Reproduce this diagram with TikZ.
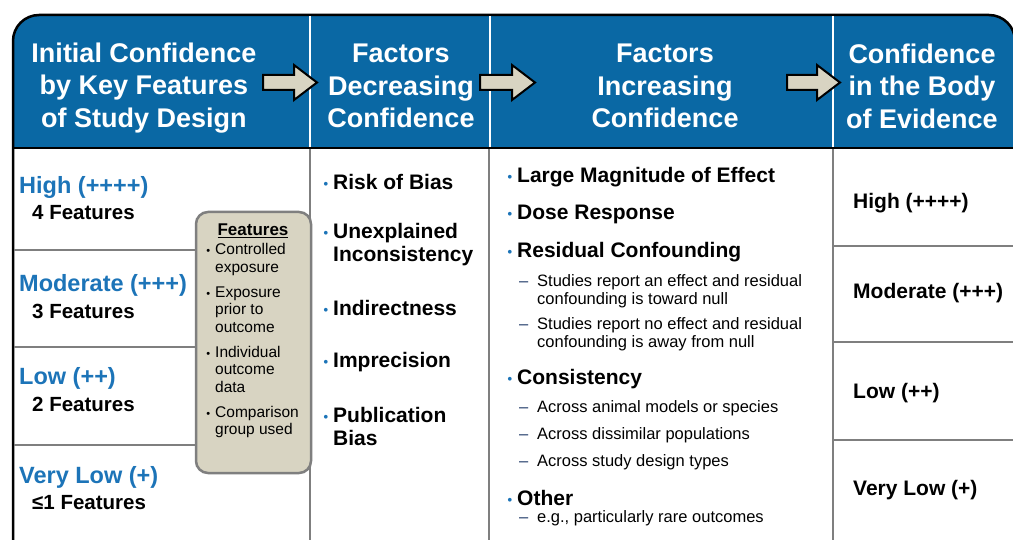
\documentclass[tikz,border=0pt]{standalone}
\usepackage{fontspec}
\setmainfont{Liberation Sans}
\usepackage{xcolor}

\definecolor{hdblue}{HTML}{0A68A4}
\definecolor{lvblue}{HTML}{1C74B8}
\definecolor{tanbox}{HTML}{D8D4C2}
\definecolor{rulegrey}{HTML}{7F7F7F}
\definecolor{dashnavy}{HTML}{1F3A68}

\newcommand{\bul}{\llap{\raisebox{1pt}{\color{lvblue}\fontsize{13}{13}\selectfont\textbullet}\hspace{5pt}}}
\newcommand{\bulk}{\llap{{\fontsize{11}{11}\selectfont\textbullet}\hspace{5pt}}}
\newcommand{\subdash}{\llap{{\color{dashnavy}\textendash}\hspace{9pt}}}

\begin{document}
\begin{tikzpicture}[x=1pt,y=-1pt,
  hdtext/.style={text=white,align=center,inner sep=0pt,font=\fontsize{27}{32.5}\selectfont\bfseries},
  lvtext/.style={anchor=west,inner sep=0pt,text=lvblue,font=\fontsize{23.5}{28}\selectfont\bfseries},
  nftext/.style={anchor=west,inner sep=0pt,font=\fontsize{20.5}{24}\selectfont\bfseries},
  factor/.style={anchor=west,inner sep=0pt,align=left,font=\fontsize{21}{23}\selectfont\bfseries},
  subfactor/.style={anchor=west,inner sep=0pt,align=left,font=\fontsize{16.5}{18}\selectfont},
  evtext/.style={anchor=west,inner sep=0pt,font=\fontsize{21}{24}\selectfont\bfseries},
  featbox/.style={draw=rulegrey,fill=tanbox,line width=2.5pt,rounded corners=12,minimum width=115,minimum height=261},
  hdarrow/.style={fill=tanbox,draw=black,line width=2pt,line join=miter},
  colrule/.style={draw=rulegrey,line width=2pt},
  hdrule/.style={draw=white,line width=1.8pt}]

\useasboundingbox (0,0) rectangle (1013,540);
\fill[white] (0,0) rectangle (1013,540);

% header band and frame
\fill[hdblue,rounded corners=26] (13,15) rectangle (1015,175);
\fill[white] (14,149) rectangle (1013,540);
\draw[line width=2.5pt,rounded corners=26] (13,545) -- (13,15) -- (1015,15) -- (1015,545);
\draw[line width=2.5pt] (13,148) -- (1013,148);

% column dividers
\draw[hdrule] (310,16) -- (310,147);
\draw[hdrule] (490,16) -- (490,147);
\draw[hdrule] (833,16) -- (833,147);
\draw[colrule] (310,149) -- (310,540);
\draw[colrule] (489,149) -- (489,540);
\draw[colrule] (833,149) -- (833,540);

% row lines
\draw[colrule] (14,250) -- (200,250);
\draw[colrule] (14,347) -- (200,347);
\draw[colrule] (14,445) -- (200,445);
\draw[colrule] (834,246) -- (1013,246);
\draw[colrule] (834,342) -- (1013,342);
\draw[colrule] (834,440) -- (1013,440);

% headers
\node[hdtext] (hdInit) at (144,88) {Initial Confidence\\by Key Features\\of Study Design};
\node[hdtext] (hdDec) at (401,86) {Factors\\Decreasing\\Confidence};
\node[hdtext] (hdInc) at (665,86) {Factors\\Increasing\\Confidence};
\node[hdtext] (hdBody) at (922,86) {Confidence\\in the Body\\of Evidence};

% arrows between headers
\draw[hdarrow] (263,75) -- ++(31,0) -- ++(0,-10) -- ++(23,17.5) -- ++(-23,17.5) -- ++(0,-10) -- ++(-31,0) -- cycle;
\draw[hdarrow] (480,75) -- ++(32,0) -- ++(0,-10) -- ++(23,17.5) -- ++(-23,17.5) -- ++(0,-10) -- ++(-32,0) -- cycle;
\draw[hdarrow] (787,75) -- ++(30,0) -- ++(0,-10) -- ++(23,17.5) -- ++(-23,17.5) -- ++(0,-10) -- ++(-30,0) -- cycle;

% initial confidence
\node[lvtext] (lvHigh) at (19,187) {High (++++)};
\node[nftext] (nfHigh) at (32,213) {4 Features};
\node[lvtext] (lvMod) at (19,285) {Moderate (+++)};
\node[nftext] (nfMod) at (32,311) {3 Features};
\node[lvtext] (lvLow) at (19,378) {Low (++)};
\node[nftext] (nfLow) at (32,404) {2 Features};
\node[lvtext] (lvVlow) at (19,477) {Very Low (+)};
\node[nftext] (nfVlow) at (32,503) {≤1 Features};

% features box
\node[featbox] (feat) at (253.5,342.5) {};
\node[inner sep=0pt,font=\fontsize{17}{20}\selectfont\bfseries] (featTitle) at (253,231) {\underline{Features}};
\node[anchor=west,inner sep=0pt,align=left,font=\fontsize{15.5}{17.5}\selectfont] (featList) at (215,340.5)
  {\bulk Controlled\\exposure\\[7.5pt]\bulk Exposure\\prior to\\outcome\\[7.5pt]\bulk Individual\\outcome\\data\\[7.5pt]\bulk Comparison\\group used};

% decreasing factors
\node[factor] (fRisk) at (333,182) {\bul Risk of Bias};
\node[factor] (fIncon) at (333,245) {\bul Unexplained\\Inconsistency};
\node[factor] (fIndir) at (333,308) {\bul Indirectness};
\node[factor] (fImpr) at (333,362) {\bul Imprecision};
\node[factor] (fPub) at (333,426) {\bul Publication\\Bias};

% increasing factors
\node[factor] (iLarge) at (517,177) {\bul Large Magnitude of Effect};
\node[factor] (iDose) at (517,214) {\bul Dose Response};
\node[factor] (iResid) at (517,252) {\bul Residual Confounding};
\node[subfactor] (iResA) at (537,291) {\subdash Studies report an effect and residual\\confounding is toward null};
\node[subfactor] (iResB) at (537,334) {\subdash Studies report no effect and residual\\confounding is away from null};
\node[factor] (iCons) at (517,379) {\bul Consistency};
\node[subfactor] (iConsA) at (537,408) {\subdash Across animal models or species};
\node[subfactor] (iConsB) at (537,435) {\subdash Across dissimilar populations};
\node[subfactor] (iConsC) at (537,462) {\subdash Across study design types};
\node[factor] (iOther) at (517,498) {\bul Other};
\node[subfactor] (iOtherA) at (537,518) {\subdash e.g., particularly rare outcomes};

% body of evidence
\node[evtext] (evHigh) at (853,203) {High (++++)};
\node[evtext] (evMod) at (853,293) {Moderate (+++)};
\node[evtext] (evLow) at (853,393) {Low (++)};
\node[evtext] (evVlow) at (853,490) {Very Low (+)};

\end{tikzpicture}
\end{document}
